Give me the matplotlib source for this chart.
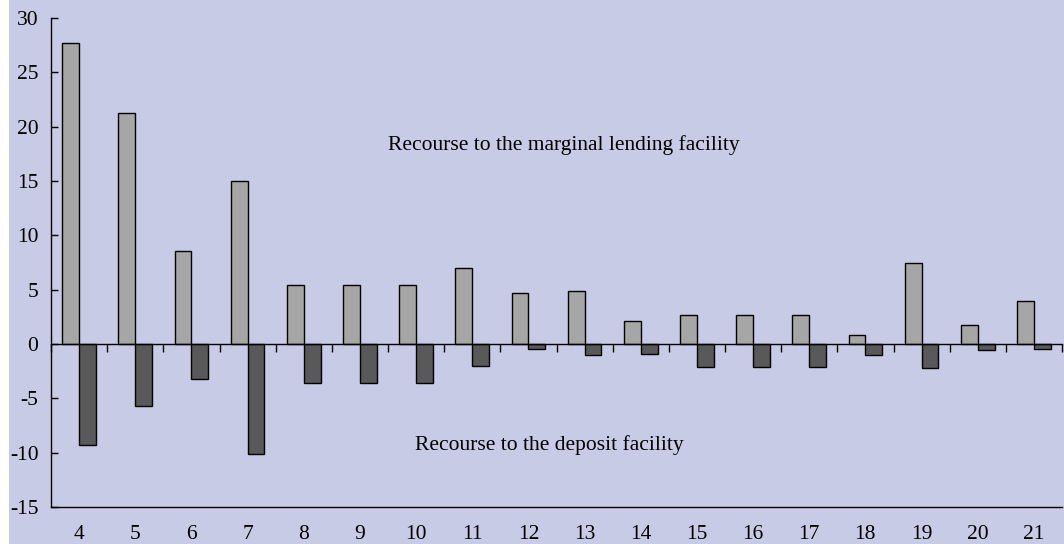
import matplotlib
matplotlib.use("Agg")
import matplotlib.pyplot as plt
import matplotlib.patches as mpatches
import numpy as np

categories = ["4", "5", "6", "7", "8", "9", "10", "11", "12", "13", "14", "15", "16", "17", "18", "19", "20", "21"]
lending = [27.7, 21.3, 8.6, 15.0, 5.4, 5.4, 5.4, 7.0, 4.7, 4.9, 2.1, 2.7, 2.7, 2.7, 0.85, 7.5, 1.75, 4.0]
deposit = [-9.25, -5.75, -3.25, -10.15, -3.6, -3.6, -3.6, -2.0, -0.45, -1.05, -0.95, -2.15, -2.15, -2.1, -1.0, -2.25, -0.55, -0.45]
yticks = [-15, -10, -5, 0, 5, 10, 15, 20, 25, 30]

bg = "#c7cbe6"
plt.rcParams["font.family"] = ["Liberation Serif", "DejaVu Serif"]
fs = 15.5

fig = plt.figure(figsize=(10.64, 5.44), dpi=100, facecolor=bg)
fig.patches.append(mpatches.Rectangle((0, 0), 9 / 1064, 1, transform=fig.transFigure,
                                      facecolor="white", edgecolor="none", zorder=-10))
ax = fig.add_axes([51 / 1064, 1 - 507 / 544, (1062 - 51) / 1064, (507 - 18) / 544])
ax.set_facecolor(bg)

x = np.arange(len(categories))
w = 0.3
ax.bar(x - w / 2, lending, width=w, color="#a6a6a6", edgecolor="black", linewidth=1, zorder=3)
ax.bar(x + w / 2, deposit, width=w, color="#595959", edgecolor="black", linewidth=1, zorder=3)

ax.set_xlim(-0.5, len(categories) - 0.5)
ax.set_ylim(-15, 30)
ax.set_yticks(yticks)
ax.set_yticklabels([str(v) for v in yticks])
ax.tick_params(axis="y", direction="in", length=5, width=1, pad=9, labelsize=fs, colors="black")

for s in ["top", "right"]:
    ax.spines[s].set_visible(False)
ax.spines["left"].set_linewidth(1)
ax.spines["bottom"].set_position(("data", 0))
ax.spines["bottom"].set_linewidth(1)
ax.spines["bottom"].set_zorder(4)

ax.set_xticks(np.arange(-0.5, len(categories), 1.0))
ax.set_xticklabels([])
ax.tick_params(axis="x", direction="out", length=6, width=1)

sec = ax.secondary_xaxis(0)
sec.set_xticks(x)
sec.set_xticklabels(categories)
sec.tick_params(axis="x", length=0, pad=13, labelsize=fs)
sec.spines["bottom"].set_linewidth(1)

ax.text(8.63, 18.35, "Recourse to the marginal lending facility", ha="center", va="center", fontsize=fs)
ax.text(8.38, -9.3, "Recourse to the deposit facility", ha="center", va="center", fontsize=fs)

fig.savefig("out.png", dpi=100, facecolor=bg)
